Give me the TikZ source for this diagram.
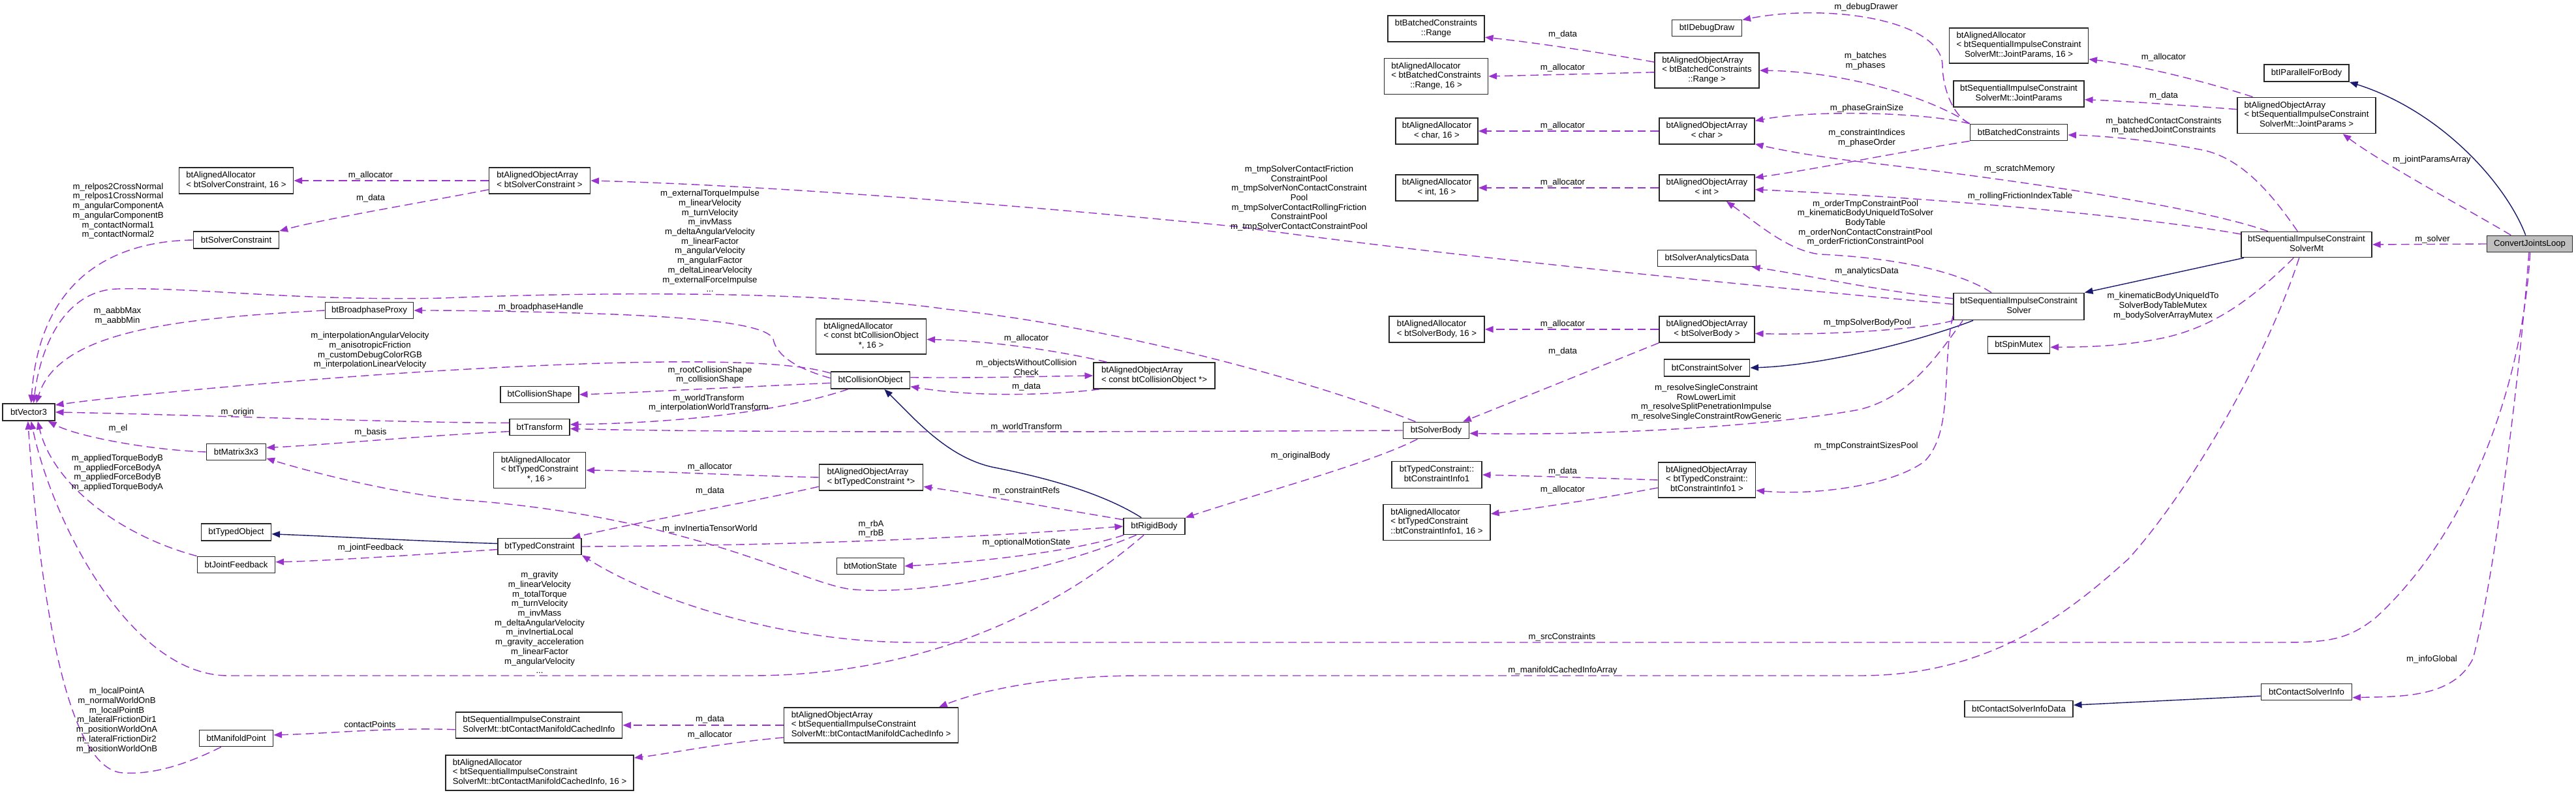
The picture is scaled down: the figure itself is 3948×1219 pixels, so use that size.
\documentclass[tikz,border=0pt]{standalone}
\usepackage{fontspec}
\setmainfont{Liberation Sans}
\usetikzlibrary{arrows.meta}
\definecolor{memc}{HTML}{9A32CD}
\definecolor{inhc}{HTML}{191970}
\definecolor{rootfill}{HTML}{BFBFBF}
\newcommand{\fsz}{\fontsize{3.75pt}{4.18pt}\selectfont}
\newcommand{\boxtxt}[2]{\begin{tabular}{@{}l@{}}#1\\\multicolumn{1}{@{}c@{}}{#2}\end{tabular}}
\newcommand{\bx}[6]{\node[box, minimum width=#4*0.01cm, minimum height=#5*0.01cm] (#1) at (#2,#3) {#6};}
\tikzset{
  box/.style={draw=black!85, line width=0.5pt, fill=white, inner sep=0pt, font=\fsz, align=center},
  lbl/.style={inner sep=0pt, font=\fsz, align=center},
  mem/.style={draw=memc, line width=0.4pt, dash pattern=on 3.6pt off 2pt, -{Triangle[length=3.6pt,width=2.8pt]}},
  inh/.style={draw=inhc, line width=0.4pt, -{Triangle[length=3.6pt,width=2.8pt]}}
}
\begin{document}
\catcode`\_=12
\begin{tikzpicture}[x=0.01cm, y=-0.01cm]
\path[use as bounding box] (0,0) rectangle (3948,1219);
% ---------- nodes ----------
\bx{AASC}{362}{277}{175}{40}{\boxtxt{btAlignedAllocator}{< btSolverConstraint, 16 >}}
\bx{SC}{362}{368}{131}{26}{btSolverConstraint}
\bx{BP}{566}{476}{135}{25}{btBroadphaseProxy}
\bx{V3}{44}{632}{80}{26}{btVector3}
\bx{M33}{362}{693}{91}{25}{btMatrix3x3}
\bx{TO}{362}{816}{107}{26}{btTypedObject}
\bx{JF}{362}{866}{119}{25}{btJointFeedback}
\bx{MP}{362}{1132}{113}{25}{btManifoldPoint}
\bx{AOASC}{827}{277}{155}{40}{\boxtxt{btAlignedObjectArray}{< btSolverConstraint >}}
\bx{CS}{827}{605}{120}{25}{btCollisionShape}
\bx{TR}{827}{655}{92}{25}{btTransform}
\bx{AATC}{827}{721}{141}{55}{\boxtxt{btAlignedAllocator\\< btTypedConstraint}{*, 16 >}}
\bx{TC}{827}{838}{128}{25}{btTypedConstraint}
\bx{CMCI}{826}{1112}{255}{40}{\boxtxt{btSequentialImpulseConstraint}{SolverMt::btContactManifoldCachedInfo}}
\bx{AACMCI}{827}{1185}{288}{54}{\boxtxt{btAlignedAllocator\\< btSequentialImpulseConstraint}{SolverMt::btContactManifoldCachedInfo, 16 >}}
\bx{AACCO}{1335}{516}{169}{54}{\boxtxt{btAlignedAllocator\\< const btCollisionObject}{*, 16 >}}
\bx{CO}{1334}{583}{121}{26}{btCollisionObject}
\bx{AOATC}{1335}{732}{159}{40}{\boxtxt{btAlignedObjectArray}{< btTypedConstraint *>}}
\bx{MS}{1334}{868}{103}{25}{btMotionState}
\bx{AOACMCI}{1335}{1112}{267}{54}{\boxtxt{btAlignedObjectArray\\< btSequentialImpulseConstraint}{SolverMt::btContactManifoldCachedInfo >}}
\bx{AOACCO}{1769}{576}{186}{40}{\boxtxt{btAlignedObjectArray}{< const btCollisionObject *>}}
\bx{RB}{1769}{807}{94}{25}{btRigidBody}
\bx{RNG}{2201}{44}{148}{40}{\boxtxt{btBatchedConstraints}{::Range}}
\bx{AARNG}{2201}{117}{159}{55}{\boxtxt{btAlignedAllocator\\< btBatchedConstraints}{::Range, 16 >}}
\bx{AACH}{2202}{201}{126}{40}{\boxtxt{btAlignedAllocator}{< char, 16 >}}
\bx{AAIN}{2202}{288}{126}{40}{\boxtxt{btAlignedAllocator}{< int, 16 >}}
\bx{AASB}{2202}{505}{146}{40}{\boxtxt{btAlignedAllocator}{< btSolverBody, 16 >}}
\bx{SB}{2201}{660}{101}{25}{btSolverBody}
\bx{INF}{2202}{728}{138}{41}{\boxtxt{btTypedConstraint::}{btConstraintInfo1}}
\bx{AAINF}{2202}{801}{164}{55}{\boxtxt{btAlignedAllocator\\< btTypedConstraint}{::btConstraintInfo1, 16 >}}
\bx{DD}{2616}{43}{107}{25}{btIDebugDraw}
\bx{AOARNG}{2616}{108}{160}{54}{\boxtxt{btAlignedObjectArray\\< btBatchedConstraints}{::Range >}}
\bx{AOACH}{2616}{201}{146}{40}{\boxtxt{btAlignedObjectArray}{< char >}}
\bx{AOAIN}{2616}{288}{146}{40}{\boxtxt{btAlignedObjectArray}{< int >}}
\bx{SAD}{2616}{396}{151}{25}{btSolverAnalyticsData}
\bx{AOASB}{2616}{505}{146}{40}{\boxtxt{btAlignedObjectArray}{< btSolverBody >}}
\bx{CSOL}{2616}{564}{131}{26}{btConstraintSolver}
\bx{AOAINF}{2616}{736}{149}{54}{\boxtxt{btAlignedObjectArray\\< btTypedConstraint::}{btConstraintInfo1 >}}
\bx{AAJP}{3094}{70}{213}{54}{\boxtxt{btAlignedAllocator\\< btSequentialImpulseConstraint}{SolverMt::JointParams, 16 >}}
\bx{JP}{3094}{144}{200}{40}{\boxtxt{btSequentialImpulseConstraint}{SolverMt::JointParams}}
\bx{BC}{3094}{203}{149}{25}{btBatchedConstraints}
\bx{SICS}{3094}{470}{200}{41}{\boxtxt{btSequentialImpulseConstraint}{Solver}}
\bx{SM}{3094}{529}{95}{26}{btSpinMutex}
\bx{CSID}{3094}{1087}{166}{25}{btContactSolverInfoData}
\bx{PFB}{3535}{112}{130}{26}{btIParallelForBody}
\bx{AOAJP}{3535}{177}{212}{55}{\boxtxt{btAlignedObjectArray\\< btSequentialImpulseConstraint}{SolverMt::JointParams >}}
\bx{SICSMT}{3535}{375}{200}{39}{\boxtxt{btSequentialImpulseConstraint}{SolverMt}}
\bx{CSI}{3535}{1061}{139}{25}{btContactSolverInfo}
\node[box, fill=rootfill, minimum width=131*0.01cm, minimum height=25*0.01cm] (CJL) at (3877,374) {ConvertJointsLoop};
% ---------- edges into btVector3 ----------
\draw[mem] (SC.west) .. controls (170,370) and (60,430) .. (V3.75);
\draw[mem] (BP.west) .. controls (280,488) and (90,505) .. (V3.50);
\draw[mem] (SB.157) .. controls (2000,580) and (1700,500) .. (1450,474) .. controls (1250,445) and (900,448) .. (680,457) .. controls (450,462) and (300,440) .. (180,443) .. controls (100,445) and (62,530) .. (V3.62);
\draw[mem] (CO.170) .. controls (1200,550) and (1000,550) .. (700,567) .. controls (500,578) and (200,605) .. (V3.15);
\draw[mem] (TR.172) .. controls (600,648) and (300,636) .. (V3.east);
\draw[mem] (M33.west) .. controls (230,690) and (120,670) .. (V3.-25);
\draw[mem] (JF.north west) .. controls (180,820) and (80,740) .. (V3.-45);
\draw[mem] (RB.-140) .. controls (1650,910) and (1450,1036) .. (1150,1036) -- (350,1036) .. controls (200,1036) and (80,800) .. (V3.-75);
\draw[mem] (MP.-150) .. controls (280,1175) and (230,1188) .. (188,1185) .. controls (100,1180) and (60,900) .. (V3.-95);
% ---------- rigid body / collision object ----------
\draw[mem] (TC.east) .. controls (1300,836) and (1550,820) .. (RB.west);
\draw[mem] (RB.-154) .. controls (1600,880) and (1400,915) .. (1300,903) .. controls (1220,890) and (1050,790) .. (700,766) .. controls (600,755) and (480,725) .. (M33.-12);
\draw[mem] (SB.-155) .. controls (2100,710) and (1950,750) .. (RB.north east);
\draw[inh] (RB.146) .. controls (1680,750) and (1580,728) .. (1520,716) .. controls (1450,700) and (1400,640) .. (CO.-33);
\draw[mem] (RB.168) .. controls (1650,785) and (1480,755) .. (AOATC.-10);
\draw[mem] (RB.-164) .. controls (1650,845) and (1500,862) .. (MS.east);
\draw[mem] (CO.177) .. controls (1220,565) and (1190,545) .. (1185,520) .. controls (1175,495) and (1050,485) .. (884,480) .. controls (780,477) and (700,476) .. (BP.east);
\draw[mem] (CO.184) .. controls (1100,595) and (950,603) .. (CS.east);
\draw[mem] (CO.-158) .. controls (1200,630) and (1050,648) .. (TR.5);
\draw[mem] (SB.west) .. controls (1600,663) and (1100,663) .. (TR.-3);
\draw[mem] (TR.-172) .. controls (650,668) and (500,682) .. (M33.8);
\draw[mem] (AOACCO.164) .. controls (1600,533) and (1500,522) .. (AACCO.-3);
\draw[mem] (CO.4) .. controls (1500,580) and (1600,577) .. (AOACCO.west);
\draw[mem] (AOACCO.-166) .. controls (1620,605) and (1500,610) .. (CO.-9);
\draw[mem] (AOASC.west) -- (AASC.east);
\draw[mem] (AOASC.-170) .. controls (650,310) and (500,335) .. (SC.north east);
% ---------- solver ----------
\draw[mem] (SICS.178) .. controls (2600,430) and (2200,390) .. (1900,348) .. controls (1600,318) and (1200,285) .. (AOASC.east);
\draw[inh] (SICS.-163) .. controls (2950,520) and (2800,560) .. (CSOL.east);
\draw[mem] (SICS.-168) .. controls (2950,505) and (2800,514) .. (AOASB.-5);
\draw[mem] (SICS.-166) .. controls (2960,560) and (2920,610) .. (2850,628) .. controls (2700,655) and (2450,668) .. (SB.-5);
\draw[mem] (SICS.-172) .. controls (2975,560) and (2995,660) .. (2950,707) .. controls (2900,745) and (2780,760) .. (AOAINF.-12);
\draw[mem] (SICS.153) .. controls (3000,415) and (2900,395) .. (2790,390) .. controls (2740,385) and (2690,340) .. (AOAIN.-35);
\draw[mem] (SICS.173) .. controls (2900,450) and (2760,420) .. (SAD.-11);
\draw[mem] (BC.north west) .. controls (2990,175) and (2977,130) .. (2977,100) .. controls (2975,30) and (2800,5) .. (DD.13);
\draw[mem] (BC.north west) .. controls (2960,150) and (2830,110) .. (AOARNG.east);
\draw[mem] (BC.north west) .. controls (2950,172) and (2780,168) .. (AOACH.12);
\draw[mem] (BC.south west) .. controls (2900,235) and (2780,260) .. (AOAIN.12);
\draw[mem] (SICSMT.161) .. controls (3350,310) and (3000,265) .. (2842,247) .. controls (2770,238) and (2720,228) .. (AOACH.-15);
\draw[mem] (SICSMT.171) .. controls (3300,335) and (3000,305) .. (AOAIN.-2);
\draw[inh] (SICSMT.-168) -- (SICS.north east);
\draw[mem] (SICSMT.-134) .. controls (3460,450) and (3400,500) .. (3316,518) .. controls (3250,532) and (3190,532) .. (SM.-4);
\draw[mem] (SICSMT.124) .. controls (3490,310) and (3440,240) .. (3370,229) .. controls (3300,215) and (3220,208) .. (BC.-3);
\draw[mem] (SICSMT.-119) .. controls (3470,560) and (3350,760) .. (3262,857) .. controls (3170,940) and (3050,1036) .. (2850,1036) -- (1750,1036) .. controls (1600,1036) and (1500,1060) .. (AOACMCI.15);
% ---------- root ----------
\draw[mem] (CJL.-87) .. controls (3865,600) and (3780,820) .. (3641,947) .. controls (3600,980) and (3570,985) .. (3500,985) -- (1400,985) .. controls (1200,985) and (1000,920) .. (TC.south east);
\draw[mem] (CJL.-95) .. controls (3860,600) and (3820,900) .. (3790,1010) .. controls (3760,1070) and (3680,1068) .. (CSI.-7);
\draw[mem] (CJL.west) -- (SICSMT.east);
\draw[mem] (CJL.155) .. controls (3780,320) and (3650,250) .. (AOAJP.-27);
\draw[inh] (CJL.115) .. controls (3840,280) and (3740,170) .. (PFB.south east);
\draw[mem] (AOAJP.161) .. controls (3380,125) and (3280,100) .. (AAJP.-11);
\draw[mem] (AOAJP.175) .. controls (3350,162) and (3260,155) .. (JP.-5);
\draw[inh] (CSI.-175) -- (CSID.4);
% ---------- arrays / allocators ----------
\draw[mem] (AOARNG.171) .. controls (2450,80) and (2350,65) .. (RNG.-10);
\draw[mem] (AOARNG.-178) -- (AARNG.east);
\draw[mem] (AOACH.west) -- (AACH.east);
\draw[mem] (AOAIN.west) -- (AAIN.east);
\draw[mem] (AOASB.west) -- (AASB.east);
\draw[mem] (AOASB.south west) -- (SB.18);
\draw[mem] (AOAINF.west) .. controls (2450,733) and (2350,730) .. (INF.east);
\draw[mem] (AOAINF.-171) .. controls (2450,765) and (2350,780) .. (AAINF.9);
\draw[mem] (AOATC.west) .. controls (1100,728) and (1000,722) .. (AATC.east);
\draw[mem] (AOATC.-170) .. controls (1150,770) and (980,800) .. (TC.15);
\draw[inh] (TC.176) .. controls (650,830) and (500,822) .. (TO.-3);
\draw[mem] (TC.-176) .. controls (650,850) and (500,860) .. (JF.4);
\draw[mem] (AOACMCI.west) -- (CMCI.east);
\draw[mem] (AOACMCI.-172) .. controls (1100,1140) and (1030,1155) .. (AACMCI.9);
\draw[mem] (CMCI.-177) .. controls (600,1115) and (500,1125) .. (MP.5);
% ---------- labels ----------
\node[lbl] (l1) at (181,323.5) {m_relpos2CrossNormal\\m_relpos1CrossNormal\\m_angularComponentA\\m_angularComponentB\\m_contactNormal1\\m_contactNormal2};
\node[lbl] (l2) at (180,484.5) {m_aabbMax\\m_aabbMin};
\node[lbl] (l3) at (567,537.5) {m_interpolationAngularVelocity\\m_anisotropicFriction\\m_customDebugColorRGB\\m_interpolationLinearVelocity};
\node[lbl] (l4) at (364,632) {m_origin};
\node[lbl] (l5) at (568,269) {m_allocator};
\node[lbl] (l6) at (568,304) {m_data};
\node[lbl] (l7) at (181,657) {m_el};
\node[lbl] (l8) at (568,663) {m_basis};
\node[lbl] (l9) at (180,725) {m_appliedTorqueBodyB\\m_appliedForceBodyA\\m_appliedForceBodyB\\m_appliedTorqueBodyA};
\node[lbl] (l10) at (568,840) {m_jointFeedback};
\node[lbl] (l11) at (179,1104.5) {m_localPointA\\m_normalWorldOnB\\m_localPointB\\m_lateralFrictionDir1\\m_positionWorldOnA\\m_lateralFrictionDir2\\m_positionWorldOnB};
\node[lbl] (l12) at (567,1111) {contactPoints};
\node[lbl] (l13) at (1088,369.5) {m_externalTorqueImpulse\\m_linearVelocity\\m_turnVelocity\\m_invMass\\m_deltaAngularVelocity\\m_linearFactor\\m_angularVelocity\\m_angularFactor\\m_deltaLinearVelocity\\m_externalForceImpulse\\...};
\node[lbl] (l14) at (829,471) {m_broadphaseHandle};
\node[lbl] (l15) at (1088,575) {m_rootCollisionShape\\m_collisionShape};
\node[lbl] (l16) at (1086,618) {m_worldTransform\\m_interpolationWorldTransform};
\node[lbl] (l17) at (1088,716) {m_allocator};
\node[lbl] (l18) at (1088,753) {m_data};
\node[lbl] (l19) at (1088,811) {m_invInertiaTensorWorld};
\node[lbl] (l20) at (1335,811) {m_rbA\\m_rbB};
\node[lbl] (l21) at (827,954.5) {m_gravity\\m_linearVelocity\\m_totalTorque\\m_turnVelocity\\m_invMass\\m_deltaAngularVelocity\\m_invInertiaLocal\\m_gravity_acceleration\\m_linearFactor\\m_angularVelocity\\...};
\node[lbl] (l22) at (1088,1103) {m_data};
\node[lbl] (l23) at (1088,1127) {m_allocator};
\node[lbl] (l24) at (1991,304) {m_tmpSolverContactFriction\\ConstraintPool\\m_tmpSolverNonContactConstraint\\Pool\\m_tmpSolverContactRollingFriction\\ConstraintPool\\m_tmpSolverContactConstraintPool};
\node[lbl] (l25) at (1573,519) {m_allocator};
\node[lbl] (l26) at (1573,563) {m_objectsWithoutCollision\\Check};
\node[lbl] (l27) at (1573,593) {m_data};
\node[lbl] (l28) at (1573,655) {m_worldTransform};
\node[lbl] (l29) at (1993,699) {m_originalBody};
\node[lbl] (l30) at (1573,753) {m_constraintRefs};
\node[lbl] (l31) at (1573,832) {m_optionalMotionState};
\node[lbl] (l32) at (2860,11) {m_debugDrawer};
\node[lbl] (l33) at (2395,53) {m_data};
\node[lbl] (l34) at (2395,104) {m_allocator};
\node[lbl] (l35) at (2859,93.5) {m_batches\\m_phases};
\node[lbl] (l36) at (2861,166) {m_phaseGrainSize};
\node[lbl] (l37) at (2395,193) {m_allocator};
\node[lbl] (l38) at (2861,211.5) {m_constraintIndices\\m_phaseOrder};
\node[lbl] (l39) at (3095,259) {m_scratchMemory};
\node[lbl] (l40) at (2395,280) {m_allocator};
\node[lbl] (l41) at (3096,301) {m_rollingFrictionIndexTable};
\node[lbl] (l42) at (2859,342) {m_orderTmpConstraintPool\\m_kinematicBodyUniqueIdToSolver\\BodyTable\\m_orderNonContactConstraintPool\\m_orderFrictionConstraintPool};
\node[lbl] (l43) at (2861,416) {m_analyticsData};
\node[lbl] (l44) at (2395,497) {m_allocator};
\node[lbl] (l45) at (2862,495) {m_tmpSolverBodyPool};
\node[lbl] (l46) at (2395,539) {m_data};
\node[lbl] (l47) at (2615,617) {m_resolveSingleConstraint\\RowLowerLimit\\m_resolveSplitPenetrationImpulse\\m_resolveSingleConstraintRowGeneric};
\node[lbl] (l48) at (2395,723) {m_data};
\node[lbl] (l49) at (2395,751) {m_allocator};
\node[lbl] (l50) at (2860,684) {m_tmpConstraintSizesPool};
\node[lbl] (l51) at (2394,977) {m_srcConstraints};
\node[lbl] (l52) at (2395,1028) {m_manifoldCachedInfoArray};
\node[lbl] (l53) at (3316,88) {m_allocator};
\node[lbl] (l54) at (3316,147) {m_data};
\node[lbl] (l55) at (3316,193) {m_batchedContactConstraints\\m_batchedJointConstraints};
\node[lbl] (l56) at (3727,245) {m_jointParamsArray};
\node[lbl] (l57) at (3728,367) {m_solver};
\node[lbl] (l58) at (3315,469) {m_kinematicBodyUniqueIdTo\\SolverBodyTableMutex\\m_bodySolverArrayMutex};
\node[lbl] (l59) at (3727,1011) {m_infoGlobal};
\end{tikzpicture}
\end{document}
